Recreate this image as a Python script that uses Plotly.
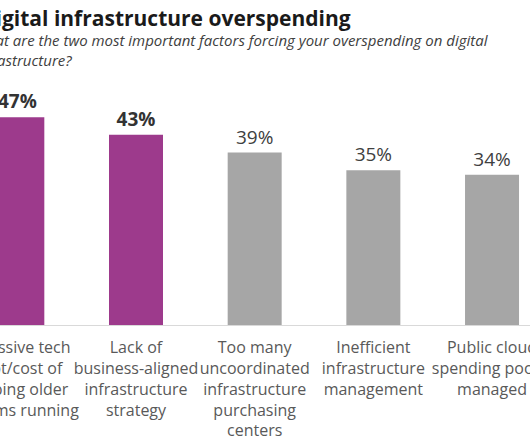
import plotly.graph_objects as go

categories = [
    "Excessive tech<br>debt/cost of<br>keeping older<br>systems running",
    "Lack of<br>business-aligned<br>infrastructure<br>strategy",
    "Too many<br>uncoordinated<br>infrastructure<br>purchasing<br>centers",
    "Inefficient<br>infrastructure<br>management",
    "Public cloud<br>spending poorly<br>managed",
]
values = [47, 43, 39, 35, 34]
highlighted = [True, True, False, False, False]

title_text = "Digital infrastructure overspending"
subtitle_text = ("What are the two most important factors forcing your overspending on digital"
                 "<br>infrastructure?")

PURPLE = "#9d3a8c"
GRAY = "#a6a6a6"

colors = [PURPLE if h else GRAY for h in highlighted]
labels = [f"<b>{v}%</b>" if h else f"{v}%" for v, h in zip(values, highlighted)]
label_colors = ["#333333" if h else "#404040" for h in highlighted]

W, H = 530, 443
T, B = 80, 118
PH = H - T - B

fig = go.Figure(
    go.Bar(
        x=list(range(len(categories))),
        y=values,
        marker=dict(color=colors, line=dict(width=0)),
        text=labels,
        textposition="outside",
        textfont=dict(family="Open Sans", size=19, color=label_colors),
        cliponaxis=False,
        hoverinfo="skip",
    )
)

fig.update_layout(
    width=W,
    height=H,
    margin=dict(l=0, r=0, t=T, b=B, pad=0),
    paper_bgcolor="white",
    plot_bgcolor="white",
    bargap=0.545,
    showlegend=False,
    xaxis=dict(
        range=[-0.146, 4.32],
        tickmode="array",
        tickvals=list(range(len(categories))),
        ticktext=categories,
        tickangle=0,
        ticklabeloverflow="allow",
        ticklabelstandoff=8,
        tickfont=dict(family="Open Sans", size=16, color="#595959"),
        showline=True,
        linecolor="#d9d9d9",
        linewidth=1,
        showgrid=False,
        zeroline=False,
        ticks="",
        automargin=False,
    ),
    yaxis=dict(
        range=[0, 55.4],
        visible=False,
        showgrid=False,
        zeroline=False,
    ),
    annotations=[
        dict(
            text=f"<b>{title_text}</b>",
            xref="paper", yref="paper",
            x=-22 / W, y=1 + (T - 2) / PH,
            xanchor="left", yanchor="top",
            showarrow=False,
            font=dict(family="Open Sans", size=21, color="#1a1a1a"),
            align="left",
        ),
        dict(
            text=f"<i>{subtitle_text}</i>",
            xref="paper", yref="paper",
            x=-28 / W, y=1 + (T - 28) / PH,
            xanchor="left", yanchor="top",
            showarrow=False,
            font=dict(family="Open Sans", size=15, color="#404040"),
            align="left",
        ),
    ],
)

fig.write_html(
    "out.html",
    config={"displayModeBar": False},
    post_script="document.body.style.margin='0';",
)
